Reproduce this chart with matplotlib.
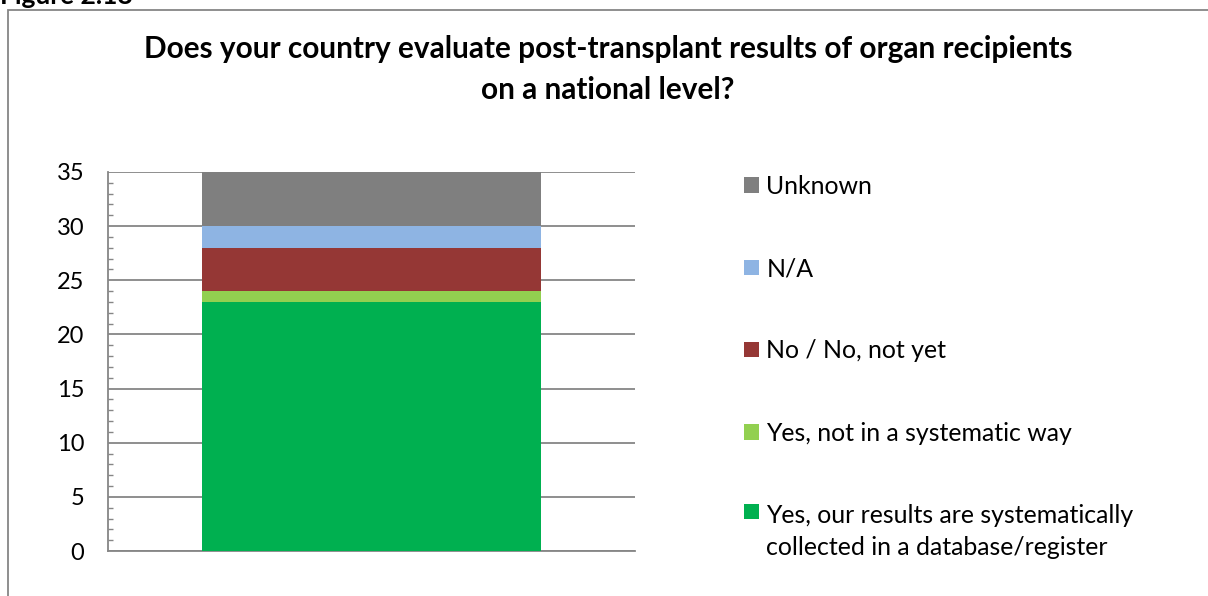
import matplotlib
matplotlib.use("Agg")
import matplotlib.pyplot as plt
from matplotlib.patches import Rectangle
from matplotlib.ticker import MultipleLocator

plt.rcParams['font.family'] = ['Lato', 'DejaVu Sans']

categories = ["Yes, our results are systematically\ncollected in a database/register",
              "Yes, not in a systematic way",
              "No / No, not yet",
              "N/A",
              "Unknown"]
values = [23, 1, 4, 2, 5]
colors = ["#00B050", "#92D050", "#953735", "#8EB4E3", "#7F7F7F"]
title = "Does your country evaluate post-transplant results of organ recipients\non a national level?"
yticks = [0, 5, 10, 15, 20, 25, 30, 35]

W, H = 1208, 596
fig = plt.figure(figsize=(W / 100, H / 100), dpi=100)

# chart frame
fig.patches.append(Rectangle((8 / W, -0.1), 1.2, 1 - 10 / H + 0.1, transform=fig.transFigure,
                             fill=False, edgecolor="#868686", linewidth=1.3))
fig.text(0 / W, 1 - 4 / H, "Figure 2.18", fontsize=19, fontweight="bold", va="baseline", ha="left")

ax = fig.add_axes([108 / W, 1 - 551 / H, (635 - 108) / W, (551 - 172) / H])
bottom = 0
handles = []
for cat, v, c in zip(categories, values, colors):
    b = ax.bar(0, v, bottom=bottom, width=0.643, color=c, label=cat, zorder=3)
    handles.append(b)
    bottom += v

ax.set_xlim(-0.5, 0.5)
ax.set_ylim(0, 35)
ax.set_yticks(yticks)
ax.yaxis.set_minor_locator(MultipleLocator(1))
ax.set_xticks([])
ax.grid(axis="y", color="#868686", linewidth=1.3, zorder=0)
for s in ["top", "right"]:
    ax.spines[s].set_visible(False)
for s in ["left", "bottom"]:
    ax.spines[s].set_color("#868686")
    ax.spines[s].set_linewidth(1.3)
ax.tick_params(axis="y", which="major", length=0, pad=17, labelsize=17)
ax.tick_params(axis="y", which="minor", direction="in", length=3.6, width=1, color="#868686")

fig.suptitle(title, x=608 / W, y=1 - 35 / H, va="top", fontsize=21.4, fontweight="bold", linespacing=1.56)

leg = ax.legend(handles[::-1], categories[::-1], loc="upper left",
                bbox_to_anchor=(744 / W, 1 - 175 / H), bbox_transform=fig.transFigure,
                frameon=False, fontsize=17.9, handlelength=0.6, handleheight=0.6,
                handletextpad=0.3, labelspacing=2.38, borderpad=0, borderaxespad=0)
for t in leg.get_texts():
    t.set_linespacing(1.5)
# align the handle of the two-line entry with its first line
rows = leg._legend_handle_box.get_children()[0].get_children()
rows[-1].align = "top"

fig.savefig("out.png", dpi=100)
